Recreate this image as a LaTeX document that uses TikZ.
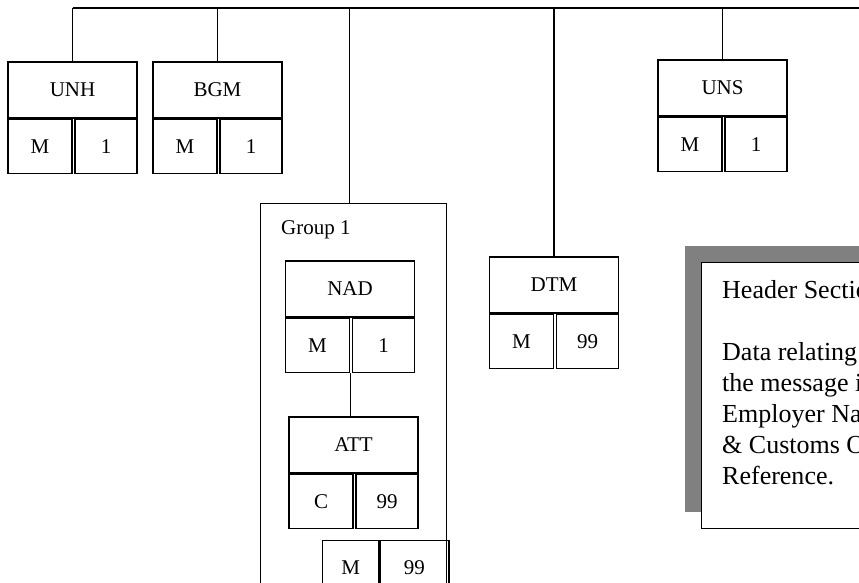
\documentclass[tikz,border=0pt]{standalone}
\usepackage{fontspec}
\setmainfont{Liberation Serif}
\usetikzlibrary{positioning}

\newcommand{\segfont}{\fontsize{21}{25}\selectfont}
\newcommand{\notefont}{\fontsize{26}{31}\selectfont}

\tikzset{
  seglabel/.style={draw, line width=1.3pt, minimum width=129pt, minimum height=56pt, inner sep=0pt, font=\segfont},
  segleft/.style={draw, line width=1.3pt, minimum width=64pt, minimum height=54pt, inner sep=0pt, font=\segfont},
  segright/.style={draw, line width=1.3pt, minimum width=62pt, minimum height=54pt, inner sep=0pt, font=\segfont},
  link/.style={line width=1.3pt},
  bus/.style={line width=2pt},
}

\begin{document}
\begin{tikzpicture}[x=1pt, y=-1pt]
    \useasboundingbox (0,0) rectangle (859,582);
    \clip (0,0) rectangle (859,582);

    % --- SEGMENTS ---
    \foreach \id/\x/\y/\name/\st/\rep in {unh/72.5/90/UNH/M/1, bgm/217.5/90/BGM/M/1, uns/722.5/88/UNS/M/1,
        nad/350/289/NAD/M/1, att/353.5/445/ATT/C/99, dtm/554/285/DTM/M/99} {
        \node[seglabel] (\id) at (\x,\y) {\name};
        \node[segleft, anchor=north west] (\id-st) at (\id.south west) {\st};
        \node[segright, anchor=north east] (\id-rep) at (\id.south east) {\rep};
    }

    % --- GROUP 1 ---
    \node[draw, line width=1.3pt, minimum width=186pt, minimum height=420pt, inner sep=0pt, anchor=north west] (grp) at (260,203) {};
    \node[font=\segfont, anchor=base west, inner sep=0pt] (grplabel) at (281,234) {Group 1};
    \node[draw, line width=1.3pt, minimum width=56pt, minimum height=54pt, inner sep=0pt, font=\segfont, anchor=north west] (grp-st) at (322,540) {M};
    \node[draw, line width=1.3pt, minimum width=69pt, minimum height=54pt, inner sep=0pt, font=\segfont, right=0pt of grp-st] (grp-rep) {99};

    % --- NOTE ---
    \fill[black!50] (685,246) rectangle (905,512);
    \node[draw, fill=white, line width=1.3pt, minimum width=200pt, minimum height=266pt, inner sep=0pt, anchor=north west] (note) at (701,262) {};
    \node[font=\notefont, align=left, anchor=north west, inner sep=0pt] (notetext) at (722,280)
        {Header Section\\[31pt]Data relating to\\the message i.e.\\Employer Name\\\& Customs Office\\Reference.};

    % --- CONNECTORS ---
    \coordinate (busend) at (880,8);
    \draw[bus] (unh.north |- busend) -- (busend);
    \foreach \id in {unh, bgm, dtm, uns}
        \draw[link] (\id.north) -- (\id.north |- busend);
    \draw[link] ([xshift=-4pt]grp.north) -- ([xshift=-4pt]grp.north |- busend);
    \draw[link] (nad-st.south east) -- (nad-st.south east |- att.north);
\end{tikzpicture}
\end{document}
